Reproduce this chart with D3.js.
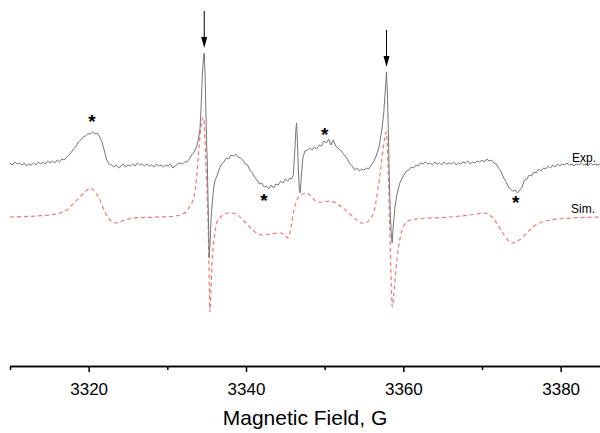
<!DOCTYPE html>
<html lang="en">
<head>
<meta charset="UTF-8">
<title>EPR spectrum</title>
<script src="https://cdn.jsdelivr.net/npm/d3@7"></script>
<style>
  body { margin: 0; background: #fff; }
  text { font-family: Arial, "Liberation Sans", sans-serif; }
</style>
</head>
<body>
<script>
var width = 600, height = 433;

// experimental spectrum: field (G) and intensity (a.u.)
var expField = [3310.0,3310.3,3310.6,3310.9,3311.2,3311.5,3311.8,3312.1,3312.4,3312.7,3313.0,3313.3,3313.6,3313.9,3314.2,3314.5,3314.8,3315.1,3315.4,3315.7,3316.0,3316.3,3316.6,3316.9,3317.2,3317.5,3317.8,3318.1,3318.4,3318.7,3319.0,3319.3,3319.6,3319.9,3320.2,3320.5,3320.8,3321.1,3321.4,3321.7,3322.0,3322.3,3322.6,3322.9,3323.2,3323.5,3323.8,3324.1,3324.4,3324.7,3325.0,3325.3,3325.6,3325.9,3326.2,3326.5,3326.8,3327.1,3327.4,3327.7,3328.0,3328.3,3328.6,3328.9,3329.2,3329.5,3329.8,3330.1,3330.4,3330.7,3331.0,3331.3,3331.6,3331.9,3332.2,3332.5,3332.8,3333.1,3333.4,3333.7,3333.9,3334.14,3334.3,3334.45,3334.6,3334.69,3334.8,3334.9,3335.0,3335.07,3335.15,3335.25,3335.32,3335.42,3335.55,3335.7,3335.9,3336.05,
  3336.3,3336.6,3336.9,3337.2,3337.5,3337.8,3338.1,3338.4,3338.7,3339.0,3339.3,3339.6,3339.9,3340.2,3340.5,3340.8,3341.1,3341.4,3341.7,3342.0,3342.3,3342.6,3342.9,3343.2,3343.5,3343.8,3344.1,3344.4,3344.7,3345.0,3345.3,3345.6,3345.8,3346.02,3346.21,3346.34,3346.43,3346.53,3346.66,3346.78,3346.89,3347.04,3347.23,
  3347.48,3347.8,3348.1,3348.4,3348.7,3349.0,3349.3,3349.6,3349.9,3350.2,3350.5,3350.8,3351.1,3351.4,3351.7,3352.0,3352.3,3352.6,3352.9,3353.2,3353.5,3353.8,3354.1,3354.4,3354.7,3355.0,3355.3,3355.6,3355.9,3356.2,3356.5,3356.89,3357.27,3357.52,3357.71,3357.86,3357.98,3358.09,3358.22,3358.35,3358.47,3358.58,3358.73,3358.92,3359.17,3359.55,
  3360.06,3360.4,3360.7,3361.0,3361.3,3361.6,3361.9,3362.2,3362.5,3362.8,3363.1,3363.4,3363.7,3364.0,3364.3,3364.6,3364.9,3365.2,3365.5,3365.8,3366.1,3366.4,3366.7,3367.0,3367.3,3367.6,3367.9,3368.2,3368.5,3368.8,3369.1,3369.4,3369.7,3370.0,3370.3,3370.6,3370.9,3371.2,3371.5,3371.8,3372.1,3372.4,3372.7,3373.0,3373.3,3373.6,3373.9,3374.2,3374.5,3374.8,3375.1,3375.4,3375.7,3376.0,3376.3,3376.6,3376.9,3377.2,3377.5,3377.8,3378.1,3378.4,3378.7,3379.0,3379.3,3379.6,3379.9,3380.2,3380.5,3380.8,3381.1,3381.4,3381.7,3382.0,3382.3,3382.6,3382.9,3383.2,3383.5,3383.8,3384.1,3384.4,3384.7,3385.0];
var expValue = [2,0,3,1,2,0,2,-1,1,0,2,0,3,1,3,1,4,2,4,2,5,3,6,5,8,10,13,16,19,23,25,28,29,31,31,33,31,32,28,23,14,5,1,0,-2,0,-3,-1,1,-2,0,-1,1,-1,2,0,1,-1,1,-1,0,-2,1,-1,0,-2,0,-1,1,-3,-1,1,2,1,3,3,6,10,13,18,24,35,60,90,108,112,90,55,20,5,-25,-65,-93,-80,-55,-38,-22,-16,
  -11,-4,1,3,7,6,10,9,11,8,7,5,1,0,-5,-8,-12,-15,-19,-18,-22,-21,-24,-20,-23,-19,-20,-16,-18,-14,-16,-13,-14,-10,15,35,42,25,-5,-25,-28,-10,7,
  14,15,17,15,18,16,20,19,24,22,26,20,25,19,17,15,12,9,6,1,-1,-5,-3,-6,-4,-5,-3,-4,0,3,8,17,35,53,75,93,70,35,-15,-50,-70,-78,-60,-43,-30,-18,
  -10,-6,-5,-2,-3,0,-1,2,1,3,1,2,0,3,1,2,0,3,1,2,1,3,0,2,1,3,2,4,1,3,2,4,3,5,3,6,4,5,2,1,-3,-6,-12,-16,-21,-24,-26,-25,-28,-25,-22,-15,-14,-10,-11,-7,-8,-4,-6,-3,-4,-1,-3,0,-2,1,-1,1,0,2,0,1,-1,1,0,2,0,1,-1,2,0,1,0,1];

// simulated spectrum
var simField = [3310.0,3315.08,3316.35,3317.24,3318.13,3318.89,3319.66,3320.29,3320.8,3321.44,3322.07,3322.71,3323.34,3324.61,3325.63,3329.06,3330.96,3331.6,3332.36,3332.87,3333.38,3333.72,3333.95,3334.23,3334.4,3334.56,3334.69,3334.78,3334.99,3335.2,3335.35,3335.41,3335.54,3335.67,3335.83,3336.05,3336.26,3336.68,3337.06,3337.7,3338.21,3338.97,3339.61,3340.24,3340.88,3341.51,3342.15,3343.04,3344.31,3344.94,3345.32,3345.58,3345.83,3346.09,3346.47,3346.98,3347.74,3348.37,3349.01,3349.77,3350.66,3351.42,3352.31,3353.2,3354.09,3354.73,3355.23,3355.74,3356.25,3356.76,3357.14,3357.52,3357.84,3358.07,3358.28,3358.47,3358.6,3358.79,3359.05,3359.34,3359.68,3360.06,3360.57,3361.71,3365.91,3368.45,3369.34,3370.35,3370.99,3371.5,3372.01,3372.64,3373.28,3373.91,3374.55,3375.18,3375.82,3376.45,3377.34,3378.61,3381.53,3384.97];
var simValue = [0,2,4,7,14,20,26,29,25,17,5,-3,-6,-3,-1,0,1,2,5,11,20,39,62,87,96,100,92,77,37,-13,-73,-95,-73,-48,-30,-16,-6,-1,2,4,4,2,-3,-8,-13,-17,-18,-17,-16,-18,-21,-16,-5,7,17,22,24,20,15,15,16,14,9,3,-3,-6,-6,-2,5,27,49,74,85,47,-13,-68,-90,-78,-53,-33,-18,-9,-4,-2,0,2,3,4,2,-2,-8,-16,-23,-26,-24,-20,-15,-10,-6,-3,-1,0];

var expOffset = 201, simOffset = 149;

// annotations
var arrowFields = [3334.69, 3357.86];
var arrowPeaks = [112, 93];
var starFields = [3320.42, 3342.27, 3350.02, 3374.29];
var starLevels = [47, -32, 34, -34];

var majorTicks = [3320, 3340, 3360, 3380];
var minorTicks = [3310, 3330, 3350, 3370];

var svg = d3.select("body").append("svg").attr("width", width).attr("height", height);

var xScale = d3.scaleLinear().domain([3310, 3385]).range([10, 600]);
var yScale = d3.scaleLinear().domain([0, 366]).range([366, 0]);

var expData = expField.map(function(f, i){ return [f, expValue[i] + expOffset]; });
var simData = simField.map(function(f, i){ return [f, simValue[i] + simOffset]; });

var line = d3.line()
    .x(function(d){ return xScale(d[0]); })
    .y(function(d){ return yScale(d[1]); });

svg.append("path")
    .datum(simData)
    .attr("fill", "none")
    .attr("stroke", "#f27777")
    .attr("stroke-width", 1.2)
    .attr("stroke-dasharray", "4,3")
    .attr("d", line.curve(d3.curveMonotoneX));

svg.append("path")
    .datum(expData)
    .attr("fill", "none")
    .attr("stroke", "#767676")
    .attr("stroke-width", 1)
    .attr("d", line.curve(d3.curveLinear));

// arrows over the two main lines
arrowFields.forEach(function(f, i){
    var tip = yScale(arrowPeaks[i] + expOffset) - 5;
    svg.append("line")
        .attr("x1", xScale(f)).attr("x2", xScale(f))
        .attr("y1", tip - 37).attr("y2", tip - 10)
        .attr("stroke", "#000").attr("stroke-width", 1);
    svg.append("path")
        .attr("d", "M" + (xScale(f) - 3) + "," + (tip - 11) + "L" + (xScale(f) + 3) + "," + (tip - 11) + "L" + xScale(f) + "," + tip + "Z")
        .attr("fill", "#000");
});

starFields.forEach(function(f, i){
    svg.append("text")
        .attr("x", xScale(f))
        .attr("y", yScale(starLevels[i] + expOffset) + 10)
        .attr("text-anchor", "middle")
        .attr("font-size", 19)
        .attr("font-weight", "bold")
        .text("*");
});

svg.append("text").attr("x", 596).attr("y", yScale(expOffset) - 3)
    .attr("text-anchor", "end").attr("font-size", 12).text("Exp.");
svg.append("text").attr("x", 595).attr("y", yScale(simOffset) - 4)
    .attr("text-anchor", "end").attr("font-size", 12).text("Sim.");

// x axis
var axisY = 366;
var minorAxis = d3.axisBottom(xScale).tickValues(minorTicks).tickSize(4).tickSizeOuter(0).tickFormat("");
var majorAxis = d3.axisBottom(xScale).tickValues(majorTicks).tickSize(6).tickSizeOuter(0)
    .tickPadding(11).tickFormat(d3.format("d"));

svg.append("g").attr("transform", "translate(0," + axisY + ")").call(minorAxis)
    .selectAll("line,path").attr("stroke-width", 1.5);
var gx = svg.append("g").attr("transform", "translate(0," + axisY + ")").call(majorAxis);
gx.selectAll("line,path").attr("stroke-width", 1.5);
gx.selectAll("text").attr("font-size", 17).attr("font-family", "Arial, 'Liberation Sans', sans-serif").attr("fill", "#000");

svg.append("text")
    .attr("x", 305).attr("y", 425)
    .attr("text-anchor", "middle")
    .attr("font-size", 21)
    .text("Magnetic Field, G");
</script>
</body>
</html>
